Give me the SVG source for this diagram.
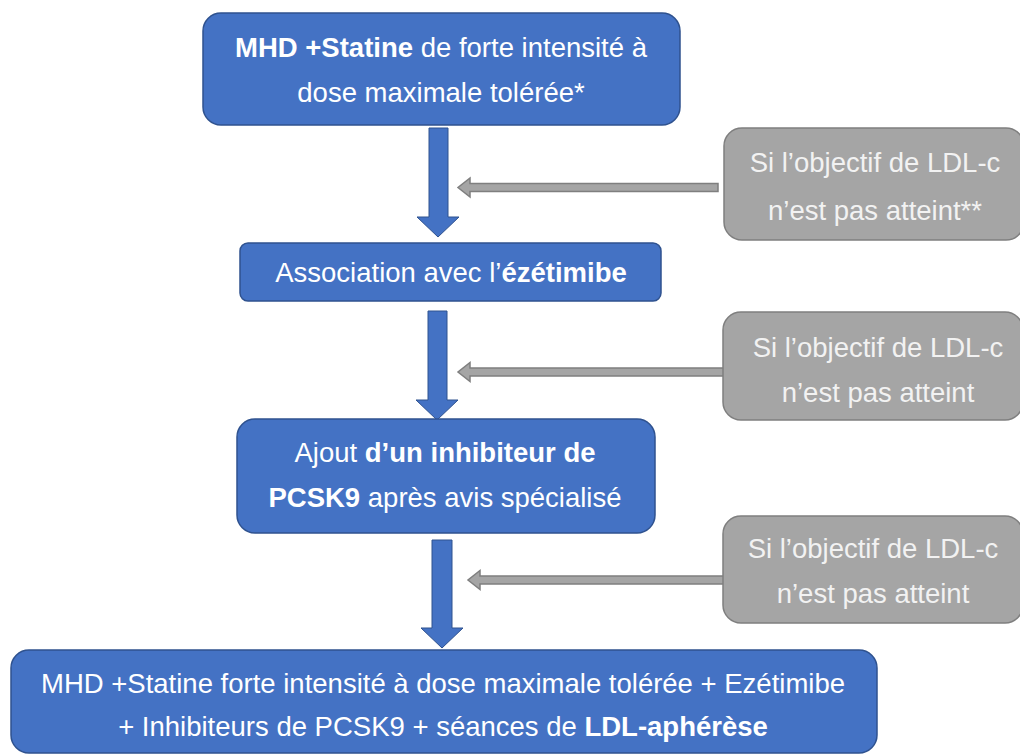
<svg xmlns="http://www.w3.org/2000/svg" width="1020" height="756" viewBox="0 0 1020 756">
<style>
.b{fill:#4472C4;stroke:#2F528F;stroke-width:1.5}
.g{fill:#A5A5A5;stroke:#7F7F7F;stroke-width:1.5}
.t{font-family:"Liberation Sans",Arial,sans-serif;font-size:27.5px;fill:#FFFFFF;text-anchor:middle}
.tg{fill:#F2F2F2}
.bo{font-weight:bold}
.ba{fill:#4472C4;stroke:#2F528F;stroke-width:1}
.ga{fill:#A5A5A5;stroke:#7F7F7F;stroke-width:1.5}
</style>
<rect width="1020" height="756" fill="#FFFFFF"/>
<g id="connectors">
<path class="ba" d="M429,128 H448 V217 H459 L438,237 L417,217 H429 Z"/>
<path class="ga" d="M718,183.5 H470 V178 L458,187.5 L470,197 V191.5 H718 Z"/>
<path class="ba" d="M428,311 H447 V400 H458 L437,420 L416,400 H428 Z"/>
<path class="ga" d="M724,368 H470 V362.5 L458,372 L470,381.5 V376 H724 Z"/>
<path class="ba" d="M432,540 H452 V628 H463 L442,648 L421,628 H432 Z"/>
<path class="ga" d="M724,576 H480 V570.5 L468,580 L480,589.5 V584 H724 Z"/>
</g>
<g id="n1">
<rect class="b" x="203" y="13" width="477" height="112" rx="18"/>
<text class="t" x="441" y="57"><tspan class="bo">MHD +Statine</tspan> de forte intensité à</text>
<text class="t" x="441" y="102">dose maximale tolérée*</text>
</g>
<g id="g1">
<rect class="g" x="724" y="128" width="300" height="112" rx="18"/>
<text class="t tg" x="875" y="172">Si l’objectif de LDL-c</text>
<text class="t tg" x="875" y="220">n’est pas atteint**</text>
</g>
<g id="n2">
<rect class="b" x="240" y="243" width="421" height="58" rx="8"/>
<text class="t" x="451" y="282">Association avec l’<tspan class="bo">ézétimibe</tspan></text>
</g>
<g id="g2">
<rect class="g" x="723" y="312" width="300" height="108" rx="18"/>
<text class="t tg" x="878" y="357">Si l’objectif de LDL-c</text>
<text class="t tg" x="878" y="402">n’est pas atteint</text>
</g>
<g id="n3">
<rect class="b" x="237" y="419" width="418" height="114" rx="18"/>
<text class="t" x="445" y="462">Ajout <tspan class="bo">d’un inhibiteur de</tspan></text>
<text class="t" x="445" y="507"><tspan class="bo">PCSK9</tspan> après avis spécialisé</text>
</g>
<g id="g3">
<rect class="g" x="723" y="516" width="300" height="107" rx="18"/>
<text class="t tg" x="873" y="558">Si l’objectif de LDL-c</text>
<text class="t tg" x="873" y="603">n’est pas atteint</text>
</g>
<g id="n4">
<rect class="b" x="11" y="650" width="866" height="103" rx="18"/>
<text class="t" x="443" y="693">MHD +Statine forte intensité à dose maximale tolérée + Ezétimibe</text>
<text class="t" x="443" y="736">+ Inhibiteurs de PCSK9 + séances de <tspan class="bo">LDL-aphérèse</tspan></text>
</g>
</svg>
